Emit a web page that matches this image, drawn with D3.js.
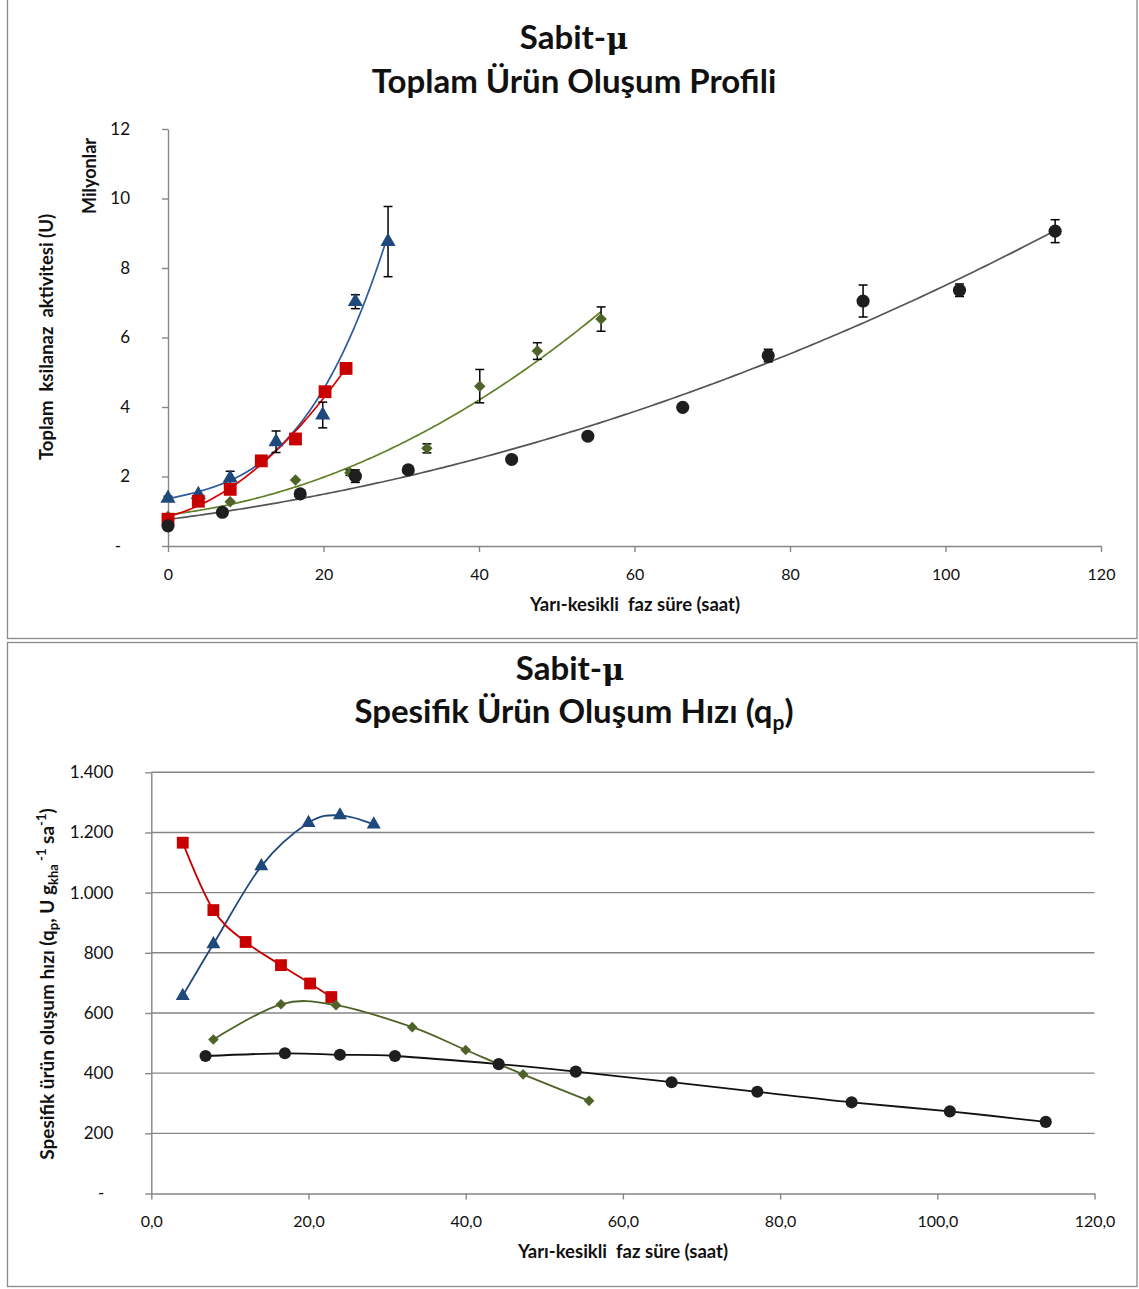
<!DOCTYPE html>
<html>
<head>
<meta charset="utf-8">
<script src="https://cdn.jsdelivr.net/npm/d3@7"></script>
<style>
  body { margin: 0; background: #fff; }
  text { font-family: Lato, "Noto Sans", sans-serif; fill: #111; }
  .pre { white-space: pre; }
</style>
</head>
<body>
<svg id="chart" width="1139" height="1289"></svg>
<script>
// ---------- Toplam ürün (milyon U) : süre (saat), değer, hata ----------
const hoursBlue   = [0, 3.9, 8.0, 13.9, 19.9, 24.1, 28.3];
const totalBlue   = [1.37, 1.48, 1.95, 3.0, 3.77, 7.03, 8.76];
const errBlue     = [0.06, 0, 0.2, 0.31, 0.37, 0.2, 1.01];

const hoursRed    = [0, 3.9, 8.0, 12.0, 16.4, 20.2, 22.9];
const totalRed    = [0.77, 1.29, 1.63, 2.45, 3.08, 4.44, 5.11];
const errRed      = [0, 0, 0, 0, 0, 0, 0.1];

const hoursGreen  = [0, 8.0, 16.4, 23.4, 33.3, 40.1, 47.5, 55.7];
const totalGreen  = [0.85, 1.27, 1.9, 2.11, 2.81, 4.6, 5.61, 6.53];
const errGreen    = [0, 0, 0, 0.08, 0.13, 0.48, 0.24, 0.35];

const hoursBlack  = [0, 7.0, 17.0, 24.1, 30.9, 44.2, 54.0, 66.2, 77.2, 89.4, 101.8, 114.1];
const totalBlack  = [0.58, 0.97, 1.5, 2.01, 2.19, 2.49, 3.16, 3.99, 5.48, 7.05, 7.36, 9.06];
const errBlack    = [0, 0, 0, 0.18, 0, 0, 0.04, 0.06, 0.18, 0.46, 0.18, 0.33];

// trend line polynomial order per series
const trendOrder  = { blue: 3, red: 2, green: 2, black: 2 };

// ---------- Spesifik ürün oluşum hızı qp ----------
const qpHoursBlue  = [4.0, 7.9, 14.0, 20.0, 24.0, 28.3];
const qpBlue       = [657, 829, 1088, 1232, 1257, 1227];
const qpHoursRed   = [4.0, 7.9, 12.0, 16.5, 20.2, 22.9];
const qpRed        = [1166, 942, 836, 759, 698, 653];
const qpHoursGreen = [7.9, 16.5, 23.5, 33.2, 40.0, 47.3, 55.7];
const qpGreen      = [512, 629, 626, 553, 477, 396, 308];
const qpHoursBlack = [6.9, 17.0, 24.0, 31.0, 44.2, 54.0, 66.2, 77.1, 89.1, 101.6, 113.8];
const qpBlack      = [457, 466, 461, 457, 430, 405, 370, 338, 303, 273, 238];

// ---------- tick values ----------
const topXTicks = [0, 20, 40, 60, 80, 100, 120];
const topYTicks = [0, 2, 4, 6, 8, 10, 12];
const botXTicks = [0, 20, 40, 60, 80, 100, 120];
const botYTicks = [0, 200, 400, 600, 800, 1000, 1200, 1400];

const COLORS = {
  blue:  { mark: "#1F497D", line: "#2C5C9E" },
  red:   { mark: "#C80000", line: "#D80000" },
  green: { mark: "#4F6228", line: "#62802A" },
  black: { mark: "#1E1E1E", line: "#555555" }
};
const AXIS = "#868686";

const zip = (xs, ys, es) => xs.map((x, i) => ({ x, y: ys[i], e: es ? es[i] : 0 }));

// least squares polynomial fit (normal equations)
function polyfit(xs, ys, deg) {
  const n = deg + 1;
  const A = Array.from({ length: n }, () => new Array(n + 1).fill(0));
  xs.forEach((x, k) => {
    for (let i = 0; i < n; i++) {
      for (let j = 0; j < n; j++) A[i][j] += Math.pow(x, i + j);
      A[i][n] += ys[k] * Math.pow(x, i);
    }
  });
  for (let c = 0; c < n; c++) {
    let p = c;
    for (let r = c + 1; r < n; r++) if (Math.abs(A[r][c]) > Math.abs(A[p][c])) p = r;
    [A[c], A[p]] = [A[p], A[c]];
    for (let r = 0; r < n; r++) {
      if (r === c) continue;
      const f = A[r][c] / A[c][c];
      for (let k = c; k <= n; k++) A[r][k] -= f * A[c][k];
    }
  }
  const coef = A.map((row, i) => row[n] / row[i]);
  return x => coef.reduce((s, c, i) => s + c * Math.pow(x, i), 0);
}

const svg = d3.select("#chart");

// chart frames
svg.append("rect").attr("x", 7.5).attr("y", -1).attr("width", 1129.5).attr("height", 639.5)
  .attr("fill", "none").attr("stroke", "#8a8a8a").attr("stroke-width", 1.3);
svg.append("rect").attr("x", 7.5).attr("y", 642.5).attr("width", 1129.5).attr("height", 644)
  .attr("fill", "none").attr("stroke", "#8a8a8a").attr("stroke-width", 1.3);

const trLocale = d3.formatLocale({ decimal: ",", thousands: ".", grouping: [3], currency: ["", ""] });

function symbolPath(kind, size) {
  const map = { blue: d3.symbolTriangle, red: d3.symbolSquare, green: d3.symbolSquare, black: d3.symbolCircle };
  return d3.symbol(map[kind], size)();
}

function drawMarkers(g, pts, kind, sx, sy, sizes) {
  g.selectAll(null).data(pts).join("path")
    .attr("d", symbolPath(kind, sizes[kind]))
    .attr("transform", d => `translate(${sx(d.x)},${sy(d.y)})` + (kind === "green" ? " rotate(45)" : ""))
    .attr("fill", COLORS[kind].mark);
}

function drawErrors(g, pts, sx, sy) {
  const eb = g.selectAll(null).data(pts.filter(d => d.e > 0)).join("g").attr("stroke", "#000").attr("stroke-width", 1.5);
  eb.append("line").attr("x1", d => sx(d.x)).attr("x2", d => sx(d.x))
    .attr("y1", d => sy(d.y - d.e)).attr("y2", d => sy(d.y + d.e));
  eb.append("line").attr("x1", d => sx(d.x) - 4.5).attr("x2", d => sx(d.x) + 4.5)
    .attr("y1", d => sy(d.y + d.e)).attr("y2", d => sy(d.y + d.e));
  eb.append("line").attr("x1", d => sx(d.x) - 4.5).attr("x2", d => sx(d.x) + 4.5)
    .attr("y1", d => sy(d.y - d.e)).attr("y2", d => sy(d.y - d.e));
}

function styleAxis(g) {
  g.selectAll("path.domain").attr("stroke", AXIS).attr("stroke-width", 1.4);
  g.selectAll(".tick line").attr("stroke", AXIS).attr("stroke-width", 1.4);
  g.selectAll(".tick text").attr("fill", "#111").style("font-family", "Lato, sans-serif");
}

function addMuTitle(x, y) {
  const t = svg.append("text").attr("x", x).attr("y", y).attr("text-anchor", "middle")
    .attr("font-weight", 700).attr("font-size", 33);
  t.append("tspan").text("Sabit-");
  t.append("tspan").style("font-family", "'DejaVu Serif', serif").attr("font-size", 30).text("μ");
}

// ================= Top chart: total product =================
{
  const x = d3.scaleLinear().domain([0, 120]).range([168, 1101]);
  const y = d3.scaleLinear().domain([0, 12]).range([546, 129]);

  const gx = svg.append("g").attr("transform", `translate(0,${y(0)})`)
    .call(d3.axisBottom(x).tickValues(topXTicks).tickSize(6).tickSizeOuter(0).tickPadding(17).tickFormat(d3.format("d")));
  styleAxis(gx);
  gx.selectAll(".tick text").attr("font-size", 16);

  const gy = svg.append("g").attr("transform", `translate(${x(0)},0)`)
    .call(d3.axisLeft(y).tickValues(topYTicks).tickSize(6).tickSizeOuter(0).tickPadding(32).tickFormat(d => d === 0 ? "-" : d));
  styleAxis(gy);
  gy.selectAll(".tick text").attr("font-size", 17).filter(d => d === 0).attr("dx", -9);

  const series = {
    green: zip(hoursGreen, totalGreen, errGreen),
    blue:  zip(hoursBlue, totalBlue, errBlue),
    red:   zip(hoursRed, totalRed, errRed),
    black: zip(hoursBlack, totalBlack, errBlack)
  };
  const sizes = { blue: 100, red: 165, green: 66, black: 135 };
  const line = d3.line().x(d => x(d[0])).y(d => y(d[1]));

  for (const kind of ["green", "blue", "red", "black"]) {
    const pts = series[kind];
    const f = polyfit(pts.map(d => d.x), pts.map(d => d.y), trendOrder[kind]);
    const x0 = d3.min(pts, d => d.x), x1 = d3.max(pts, d => d.x);
    const samples = d3.range(0, 201).map(i => { const t = x0 + (x1 - x0) * i / 200; return [t, f(t)]; });
    svg.append("path").attr("d", line(samples)).attr("fill", "none")
      .attr("stroke", COLORS[kind].line).attr("stroke-width", 1.7);
  }
  for (const kind of ["green", "blue", "red", "black"]) {
    const g = svg.append("g");
    drawErrors(g, series[kind], x, y);
    drawMarkers(g, series[kind], kind, x, y, sizes);
  }

  // titles and axis labels
  addMuTitle(574, 49);
  svg.append("text").attr("x", 574).attr("y", 93).attr("text-anchor", "middle")
    .attr("font-weight", 700).attr("font-size", 33).text("Toplam Ürün Oluşum Profili");

  svg.append("text").attr("class", "pre").attr("x", 635).attr("y", 611).attr("text-anchor", "middle")
    .attr("font-weight", 700).attr("font-size", 18.5).text("Yarı-kesikli  faz süre (saat)");
  svg.append("text").attr("class", "pre").attr("transform", "translate(53,337) rotate(-90)").attr("text-anchor", "middle")
    .attr("font-weight", 700).attr("font-size", 18.5).text("Toplam  ksilanaz  aktivitesi (U)");
  svg.append("text").attr("transform", "translate(96,176) rotate(-90)").attr("text-anchor", "middle")
    .attr("font-weight", 700).attr("font-size", 18).text("Milyonlar");
}

// ================= Bottom chart: specific rate qp =================
{
  const x = d3.scaleLinear().domain([0, 120]).range([151.3, 1094.5]);
  const y = d3.scaleLinear().domain([0, 1400]).range([1193.5, 772.3]);

  // horizontal gridlines
  svg.append("g").selectAll("line").data(botYTicks.filter(d => d > 0)).join("line")
    .attr("x1", x(0)).attr("x2", x(120)).attr("y1", d => y(d)).attr("y2", d => y(d))
    .attr("stroke", AXIS).attr("stroke-width", 1.4);

  const gx = svg.append("g").attr("transform", `translate(0,${y(0)})`)
    .call(d3.axisBottom(x).tickValues(botXTicks).tickSize(6).tickSizeOuter(0).tickPadding(16).tickFormat(trLocale.format(".1f")));
  styleAxis(gx);
  gx.selectAll(".tick text").attr("font-size", 16);

  const gy = svg.append("g").attr("transform", `translate(${x(0)},0)`)
    .call(d3.axisLeft(y).tickValues(botYTicks).tickSize(6).tickSizeOuter(0).tickPadding(32)
      .tickFormat(d => d === 0 ? "-" : trLocale.format(",")(d)));
  styleAxis(gy);
  gy.selectAll(".tick text").attr("font-size", 17).filter(d => d === 0).attr("dx", -9);

  const series = {
    blue:  zip(qpHoursBlue, qpBlue),
    red:   zip(qpHoursRed, qpRed),
    green: zip(qpHoursGreen, qpGreen),
    black: zip(qpHoursBlack, qpBlack)
  };
  const sizes = { blue: 85, red: 140, green: 56, black: 115 };
  const lineColors = { blue: "#1F497D", red: "#C80000", green: "#4F6228", black: "#111" };
  const line = d3.line().x(d => x(d.x)).y(d => y(d.y)).curve(d3.curveCardinal.tension(0));

  for (const kind of ["blue", "red", "green", "black"]) {
    const g = svg.append("g");
    g.append("path").attr("d", line(series[kind])).attr("fill", "none")
      .attr("stroke", lineColors[kind]).attr("stroke-width", 1.8);
    drawMarkers(g, series[kind], kind, x, y, sizes);
  }

  addMuTitle(570, 680);

  const t2 = svg.append("text").attr("x", 574).attr("y", 723).attr("text-anchor", "middle")
    .attr("font-weight", 700).attr("font-size", 33);
  t2.append("tspan").text("Spesifik Ürün Oluşum Hızı (q");
  t2.append("tspan").attr("font-size", 21).attr("dy", 7).text("p");
  t2.append("tspan").attr("dy", -7).text(")");

  svg.append("text").attr("class", "pre").attr("x", 623).attr("y", 1258).attr("text-anchor", "middle")
    .attr("font-weight", 700).attr("font-size", 18.5).text("Yarı-kesikli  faz süre (saat)");

  const yl = svg.append("text").attr("transform", "translate(54,984) rotate(-90)").attr("text-anchor", "middle")
    .attr("font-weight", 700).attr("font-size", 19);
  yl.append("tspan").text("Spesifik ürün oluşum hızı (q");
  yl.append("tspan").attr("font-size", 13).attr("dy", 4).text("p");
  yl.append("tspan").attr("dy", -4).text(", U g");
  yl.append("tspan").attr("font-size", 13).attr("dy", 4).text("kha");
  yl.append("tspan").attr("font-size", 13).attr("dy", -12).text(" -1");
  yl.append("tspan").attr("dy", 8).text(" sa");
  yl.append("tspan").attr("font-size", 13).attr("dy", -8).text("-1");
  yl.append("tspan").attr("dy", 8).text(")");
}
</script>
</body>
</html>
